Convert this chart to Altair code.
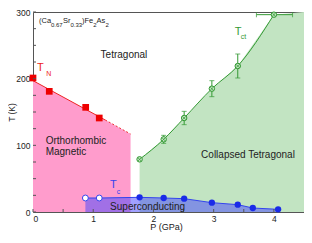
import altair as alt
import pandas as pd

# ---- data ----
tn_p = [0.0, 0.27, 0.875, 1.10]
tn_t = [201, 181, 157, 141]
tn_line_p = [0.0, 1.2]
tn_line_t = [197, 138]
tn_dash_p = [1.2, 1.62]
tn_dash_t = [138, 117]
pink_p = [0.0, 1.2, 1.62]
pink_t = [197, 138, 117]

ct_p = [1.77, 2.17, 2.51, 2.97, 3.40, 4.00]
ct_t = [79, 109, 141, 185, 219, 296]
ct_err_p = [2.17, 2.51, 2.97, 3.40]
ct_err_lo = [103, 131, 173, 201]
ct_err_hi = [115, 151, 197, 237]
ct_herr_lo = [3.71]
ct_herr_hi = [4.31]
ct_herr_t = [296]
green_p = [1.77, 2.17, 2.51, 2.97, 3.40, 4.00, 4.5]
green_t = [79, 109, 141, 185, 219, 296, 300]

tc_p = [0.87, 1.10, 1.77, 2.17, 2.51, 2.97, 3.40, 3.65, 4.07]
tc_t = [21, 21, 22, 21, 20, 14, 11, 6, 4]
tc_open = [True, True, False, False, False, False, False, False, False]

x_ticks = [0, 0.5, 1, 1.5, 2, 2.5, 3, 3.5, 4]
y_ticks = [0, 25, 50, 75, 100, 125, 150, 175, 200, 225, 250, 275, 300]

W, H = 271, 200
xs = alt.Scale(domain=[0, 4.5], nice=False)
ys = alt.Scale(domain=[0, 300], nice=False)
FONT = "Liberation Sans"
GREEN = "#339933"

X = lambda f: alt.X(f"{f}:Q", scale=xs,
                    axis=alt.Axis(values=[0, 1, 2, 3, 4], title="P (GPa)", format="d",
                                  ticks=False, grid=False, domain=False, labelPadding=2,
                                  labelFontSize=8.5, titleFontSize=9, titleFontWeight="normal",
                                  titlePadding=0, titleX=133))
Y = lambda f: alt.Y(f"{f}:Q", scale=ys,
                    axis=alt.Axis(values=[0, 50, 100, 150, 200, 250, 300], title="T (K)",
                                  ticks=False, grid=False, domain=False, labelPadding=3,
                                  labelFontSize=8.5, titleFontSize=8.5, titleFontWeight="normal",
                                  titleX=-17))

pink = alt.Chart(pd.DataFrame({"p": pink_p, "t": pink_t})).mark_area(color="#ff9ccc", opacity=1).encode(
    x=X("p"), y=Y("t"), y2=alt.datum(0))
green = alt.Chart(pd.DataFrame({"p": green_p, "t": green_t})).mark_area(color="#c2e4c2", opacity=1).encode(
    x="p:Q", y="t:Q", y2=alt.datum(0))
blue = alt.Chart(pd.DataFrame({"p": tc_p, "t": tc_t})).mark_area(color="#4444ff", opacity=0.5).encode(
    x="p:Q", y="t:Q", y2=alt.datum(0))
blue_line = alt.Chart(pd.DataFrame({"p": tc_p, "t": tc_t})).mark_line(color="#3344ee", strokeWidth=1).encode(
    x="p:Q", y="t:Q")

tn_line = alt.Chart(pd.DataFrame({"p": tn_line_p, "t": tn_line_t})).mark_line(color="#ee2222", strokeWidth=1).encode(
    x="p:Q", y="t:Q")
tn_dash = alt.Chart(pd.DataFrame({"p": tn_dash_p, "t": tn_dash_t})).mark_line(color="#ee3333", strokeWidth=1, strokeDash=[2, 2]).encode(
    x="p:Q", y="t:Q")
tn_pts = alt.Chart(pd.DataFrame({"p": tn_p, "t": tn_t})).mark_point(shape="square", filled=True, color="#ee0000", size=45, opacity=1).encode(
    x="p:Q", y="t:Q")

ct_line = alt.Chart(pd.DataFrame({"p": ct_p, "t": ct_t})).mark_line(color=GREEN, strokeWidth=1, interpolate="monotone").encode(
    x="p:Q", y="t:Q")
err_df = pd.DataFrame({"p": ct_err_p, "lo": ct_err_lo, "hi": ct_err_hi})
ct_err = alt.Chart(err_df).mark_rule(color=GREEN, strokeWidth=1).encode(x="p:Q", y="lo:Q", y2="hi:Q")
ct_cap_lo = alt.Chart(err_df).mark_tick(color=GREEN, thickness=1, size=5, orient="horizontal").encode(x="p:Q", y="lo:Q")
ct_cap_hi = alt.Chart(err_df).mark_tick(color=GREEN, thickness=1, size=5, orient="horizontal").encode(x="p:Q", y="hi:Q")
herr_df = pd.DataFrame({"lo": ct_herr_lo, "hi": ct_herr_hi, "t": ct_herr_t})
ct_herr = alt.Chart(herr_df).mark_rule(color=GREEN, strokeWidth=1).encode(x="lo:Q", x2="hi:Q", y="t:Q")
ct_hcap_lo = alt.Chart(herr_df).mark_tick(color=GREEN, thickness=1, size=5, orient="vertical").encode(x="lo:Q", y="t:Q")
ct_hcap_hi = alt.Chart(herr_df).mark_tick(color=GREEN, thickness=1, size=5, orient="vertical").encode(x="hi:Q", y="t:Q")
ct_pts = alt.Chart(pd.DataFrame({"p": ct_p, "t": ct_t})).mark_point(shape="circle", filled=True, fill="#c2e4c2", stroke=GREEN, strokeWidth=1, size=30, opacity=1).encode(
    x="p:Q", y="t:Q")
ct_x = alt.Chart(pd.DataFrame({"p": ct_p, "t": ct_t})).mark_point(
    shape="M-0.6,-0.6L0.6,0.6M-0.6,0.6L0.6,-0.6", filled=False, color=GREEN, strokeWidth=0.8, size=30, opacity=1).encode(
    x="p:Q", y="t:Q")

tc_df = pd.DataFrame({"p": tc_p, "t": tc_t, "open": tc_open})
tc_pts_f = alt.Chart(tc_df[~tc_df.open]).mark_point(shape="circle", filled=True, color="#1a2be8", size=40, opacity=1).encode(
    x="p:Q", y="t:Q")
tc_pts_o = alt.Chart(tc_df[tc_df.open]).mark_point(shape="circle", filled=True, fill="white", stroke="#3344ee", strokeWidth=1, size=35, opacity=1).encode(
    x="p:Q", y="t:Q")

# inward ticks
xt = alt.Chart(pd.DataFrame({"p": x_ticks})).mark_rule(color="#555", strokeWidth=1).encode(
    x="p:Q", y=alt.value(H), y2=alt.value(H - 3))
yt = alt.Chart(pd.DataFrame({"t": y_ticks})).mark_rule(color="#555", strokeWidth=1).encode(
    y="t:Q", x=alt.value(0), x2=alt.value(3))


def ptxt(s, x, y, size=7.5, color="#222"):
    return alt.Chart(pd.DataFrame({"s": [s]})).mark_text(
        font=FONT, fontSize=size, color=color, align="left", baseline="alphabetic").encode(
        text="s:N", x=alt.value(x), y=alt.value(y))


def dtxt(s, p, t, size=10, color="#222", align="left"):
    return alt.Chart(pd.DataFrame({"s": [s]})).mark_text(
        font=FONT, fontSize=size, color=color, align=align, baseline="alphabetic").encode(
        text="s:N", x=alt.datum(p), y=alt.datum(t))


texts = [
    ptxt("(Ca", 6, 11), ptxt("0.67", 18, 15, size=6), ptxt("Sr", 30, 11), ptxt("0.33", 37.5, 15, size=6),
    ptxt(")Fe", 49, 11), ptxt("2", 60.3, 15, size=6), ptxt("As", 63.6, 11), ptxt("2", 72.5, 15, size=6),
    dtxt("Tetragonal", 1.51, 231, align="center"),
    dtxt("T", 0.065, 211, size=11, color="#ee2222"), dtxt("N", 0.22, 204, size=7, color="#ee2222"),
    dtxt("T", 3.35, 265, size=11, color=GREEN), dtxt("ct", 3.45, 259, size=7, color=GREEN),
    dtxt("Orthorhombic", 0.21, 102), dtxt("Magnetic", 0.21, 86),
    dtxt("Collapsed Tetragonal", 3.57, 81, align="center"),
    dtxt("T", 1.28, 36, size=11, color="#3344ee"), dtxt("c", 1.39, 27, size=7, color="#3344ee"),
    dtxt("Superconducting", 1.28, 3),
]

chart = alt.layer(
    pink, green, blue, blue_line, tn_line, tn_dash, ct_line, ct_err, ct_cap_lo, ct_cap_hi,
    ct_herr, ct_hcap_lo, ct_hcap_hi, ct_pts, ct_x, tn_pts, tc_pts_o, tc_pts_f, xt, yt, *texts
).properties(
    width=W, height=H, autosize=alt.AutoSizeParams(type="none"),
    padding={"left": 25, "top": 4, "right": 0, "bottom": 23}
).configure_view(stroke="#555", strokeWidth=1).configure_axis(
    labelFont=FONT, titleFont=FONT, labelColor="#222", titleColor="#222"
)

chart.save("out.html", embed_options={"renderer": "svg", "actions": False})
